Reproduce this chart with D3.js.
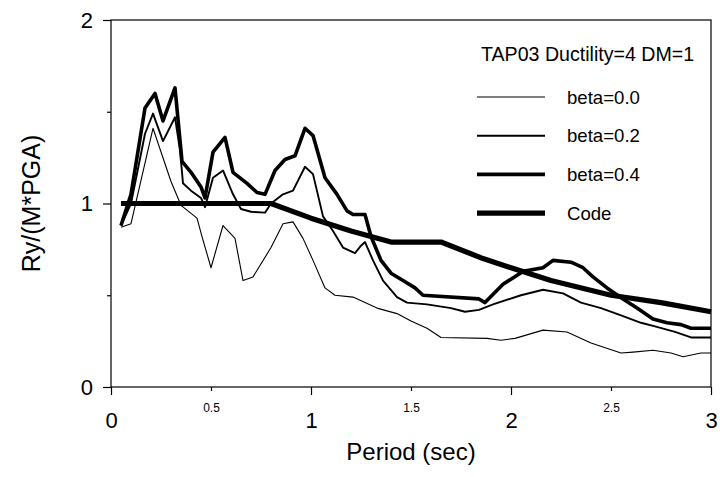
<!DOCTYPE html>
<html>
<head>
<meta charset="utf-8">
<script src="https://cdn.jsdelivr.net/npm/d3@7"></script>
<style>
  body { margin: 0; background: #fff; }
  svg { display: block; font-family: "Liberation Sans", Arial, sans-serif; }
</style>
</head>
<body>
<svg id="chart" width="720" height="477"></svg>
<script>
// period (sec), Ry/(M*PGA)
const beta00 = [[0.05,0.87],[0.1,0.89],[0.21,1.41],[0.30,1.12],[0.35,0.99],[0.43,0.92],[0.455,0.82],[0.5,0.65],
  [0.56,0.88],[0.62,0.81],[0.66,0.58],[0.71,0.60],[0.80,0.76],[0.86,0.89],[0.91,0.90],[0.96,0.81],[1.01,0.69],
  [1.07,0.54],[1.12,0.50],[1.21,0.49],[1.33,0.43],[1.43,0.40],[1.5,0.36],[1.58,0.32],[1.65,0.27],[1.88,0.265],
  [1.95,0.255],[2.02,0.265],[2.16,0.31],[2.28,0.30],[2.40,0.24],[2.55,0.185],[2.61,0.19],[2.71,0.20],
  [2.80,0.185],[2.86,0.165],[2.95,0.185],[3.0,0.185]];
const beta02 = [[0.05,0.88],[0.1,1.0],[0.17,1.38],[0.21,1.49],[0.26,1.34],[0.32,1.47],[0.345,1.29],[0.36,1.11],
  [0.40,1.07],[0.45,1.03],[0.47,0.98],[0.51,1.14],[0.56,1.18],[0.61,1.05],[0.65,0.97],[0.70,0.955],[0.77,0.95],
  [0.80,1.0],[0.86,1.05],[0.91,1.07],[0.97,1.2],[1.01,1.16],[1.06,0.93],[1.11,0.85],[1.16,0.76],[1.22,0.73],
  [1.25,0.77],[1.27,0.79],[1.31,0.69],[1.36,0.58],[1.43,0.49],[1.48,0.46],[1.58,0.45],[1.70,0.43],[1.77,0.41],
  [1.84,0.42],[1.91,0.45],[2.05,0.50],[2.16,0.53],[2.26,0.51],[2.35,0.46],[2.45,0.43],[2.55,0.39],[2.65,0.35],
  [2.72,0.33],[2.82,0.30],[2.90,0.27],[3.0,0.27]];
const beta04 = [[0.05,0.88],[0.1,1.05],[0.17,1.52],[0.22,1.60],[0.26,1.45],[0.32,1.63],[0.355,1.23],[0.40,1.17],
  [0.45,1.09],[0.47,1.03],[0.51,1.28],[0.57,1.36],[0.61,1.17],[0.68,1.11],[0.73,1.06],[0.77,1.05],[0.82,1.18],
  [0.87,1.24],[0.92,1.26],[0.97,1.41],[1.01,1.37],[1.07,1.14],[1.13,1.05],[1.18,0.96],[1.21,0.94],[1.27,0.94],
  [1.30,0.82],[1.35,0.69],[1.40,0.62],[1.46,0.58],[1.52,0.54],[1.56,0.50],[1.84,0.48],[1.87,0.46],[1.96,0.56],
  [2.06,0.63],[2.16,0.65],[2.21,0.69],[2.30,0.68],[2.36,0.65],[2.41,0.60],[2.48,0.54],[2.56,0.48],[2.63,0.43],
  [2.71,0.37],[2.78,0.35],[2.85,0.34],[2.90,0.32],[3.0,0.32]];
const code = [[0.05,1.0],[0.8,1.0],[1.0,0.92],[1.2,0.85],[1.4,0.79],[1.65,0.79],[1.86,0.70],[2.0,0.65],
  [2.2,0.58],[2.5,0.50],[2.75,0.46],[3.0,0.41]];

const seriesNames = ["beta=0.0", "beta=0.2", "beta=0.4", "Code"];
const legendTitle = "TAP03 Ductility=4 DM=1";
const xMajor = [0, 1, 2, 3];
const xMinor = [0.5, 1.5, 2.5];
const yMajor = [0, 1, 2];
const yMinor = [0.5, 1.5];

const svg = d3.select("#chart");
const x = d3.scaleLinear().domain([0, 3]).range([111, 711]);
const y = d3.scaleLinear().domain([0, 2]).range([387, 20]);

const widths = [1.1, 1.9, 3.6, 5.2];
const series = [beta00, beta02, beta04, code];

// frame
svg.append("rect")
  .attr("x", x(0)).attr("y", y(2))
  .attr("width", x(3) - x(0)).attr("height", y(0) - y(2))
  .attr("fill", "none").attr("stroke", "#000").attr("stroke-width", 1.2);

// axes
const yAx = svg.append("g").attr("transform", `translate(${x(0)},0)`)
  .call(d3.axisLeft(y).tickValues(yMajor).tickSize(8).tickPadding(10).tickFormat(d3.format("d")));
const yAxMin = svg.append("g").attr("transform", `translate(${x(0)},0)`)
  .call(d3.axisLeft(y).tickValues(yMinor).tickSize(4).tickFormat(""));
const xAx = svg.append("g").attr("transform", `translate(0,${y(0)})`)
  .call(d3.axisBottom(x).tickValues(xMajor).tickSize(8).tickPadding(17).tickFormat(d3.format("d")));
const xAxMin = svg.append("g").attr("transform", `translate(0,${y(0)})`)
  .call(d3.axisBottom(x).tickValues(xMinor).tickSize(4).tickPadding(12).tickFormat(d3.format(".1f")));

[yAx, yAxMin, xAx, xAxMin].forEach(g => {
  g.select(".domain").remove();
  g.selectAll("line").attr("stroke", "#000").attr("stroke-width", 1.2);
  g.selectAll("text").attr("fill", "#000").attr("font-family", "Liberation Sans, Arial, sans-serif");
});
yAx.selectAll("text").attr("font-size", 22);
xAx.selectAll("text").attr("font-size", 22);
xAxMin.selectAll("text").attr("font-size", 12);

// axis titles
svg.append("text")
  .attr("x", (x(0) + x(3)) / 2).attr("y", 460)
  .attr("text-anchor", "middle").attr("font-size", 24)
  .text("Period (sec)");
svg.append("text")
  .attr("transform", `translate(40,${y(1)}) rotate(-90)`)
  .attr("text-anchor", "middle").attr("font-size", 25)
  .text("Ry/(M*PGA)");

// curves
const line = d3.line().x(d => x(d[0])).y(d => y(d[1]));
svg.append("g").selectAll("path")
  .data(series)
  .join("path")
  .attr("d", line)
  .attr("fill", "none")
  .attr("stroke", "#000")
  .attr("stroke-width", (d, i) => widths[i])
  .attr("stroke-linejoin", "round");

// legend
const leg = svg.append("g");
leg.append("text").attr("x", 481).attr("y", 61).attr("font-size", 19.6).text(legendTitle);
const rows = leg.selectAll("g.row").data(seriesNames).join("g")
  .attr("class", "row")
  .attr("transform", (d, i) => `translate(0,${97 + i * 38.7})`);
rows.append("line")
  .attr("x1", 477).attr("x2", 545)
  .attr("stroke", "#000").attr("stroke-width", (d, i) => widths[i]);
rows.append("text")
  .attr("x", 567).attr("y", 6.5).attr("font-size", 18.6)
  .text(d => d);
</script>
</body>
</html>
